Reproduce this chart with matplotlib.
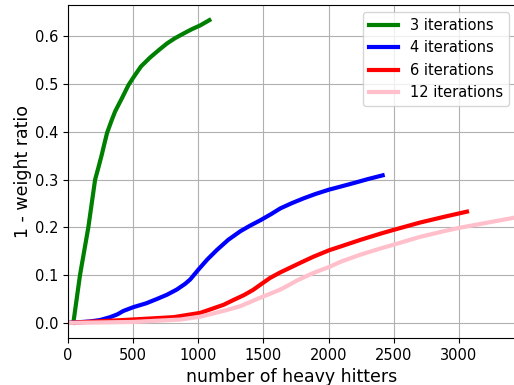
import matplotlib
matplotlib.use("Agg")
import matplotlib.pyplot as plt

# 3 iterations
x3 = [41, 92, 124, 156, 182, 208, 235, 259, 280, 300, 336, 362, 413, 464, 502,
      560, 631, 700, 759, 820, 887, 950, 1015, 1085]
y3 = [0.0, 0.100, 0.150, 0.200, 0.250, 0.300, 0.327, 0.352, 0.376, 0.398, 0.425,
      0.443, 0.470, 0.498, 0.514, 0.537, 0.556, 0.572, 0.585, 0.596, 0.606, 0.615,
      0.623, 0.634]

# 4 iterations
x4 = [0, 169, 246, 323, 380, 425, 502, 600, 682, 760, 836, 900, 938, 1002, 1070,
      1144, 1230, 1323, 1400, 1477, 1560, 1631, 1720, 1810, 1900, 2003, 2100, 2195,
      2300, 2415]
y4 = [0.0, 0.003, 0.006, 0.012, 0.018, 0.025, 0.033, 0.041, 0.050, 0.059, 0.070,
      0.082, 0.091, 0.112, 0.133, 0.153, 0.174, 0.192, 0.204, 0.215, 0.228, 0.240,
      0.251, 0.261, 0.270, 0.279, 0.286, 0.293, 0.301, 0.309]

# 6 iterations
x6 = [0, 425, 810, 1015, 1100, 1195, 1270, 1349, 1420, 1477, 1550, 1631, 1708,
      1800, 1887, 2003, 2092, 2246, 2400, 2502, 2700, 2900, 3062]
y6 = [0.0, 0.006, 0.012, 0.021, 0.029, 0.038, 0.048, 0.058, 0.069, 0.080, 0.094,
      0.106, 0.116, 0.128, 0.139, 0.152, 0.160, 0.174, 0.187, 0.195, 0.210, 0.223,
      0.233]

# 12 iterations
x12 = [0, 500, 862, 1015, 1118, 1220, 1323, 1400, 1477, 1560, 1631, 1700, 1759,
       1887, 2003, 2092, 2246, 2400, 2502, 2700, 2900, 3002, 3200, 3440]
y12 = [0.0, 0.002, 0.007, 0.013, 0.020, 0.027, 0.035, 0.044, 0.053, 0.062, 0.070,
       0.080, 0.089, 0.105, 0.117, 0.128, 0.143, 0.156, 0.164, 0.180, 0.193, 0.199,
       0.209, 0.221]

series = [
    (x3, y3, "green", "3 iterations"),
    (x4, y4, "blue", "4 iterations"),
    (x6, y6, "red", "6 iterations"),
    (x12, y12, "pink", "12 iterations"),
]

fig = plt.figure(figsize=(5.14, 3.85), dpi=100)
ax = fig.add_axes([0.1323, 0.122, 0.872, 0.865])
for xs, ys, c, lab in series:
    ax.plot(xs, ys, color=c, lw=3, label=lab, solid_joinstyle="round")

ax.set_xlim(0, 3440)
ax.margins(y=0.05)
ax.set_xticks([0, 500, 1000, 1500, 2000, 2500, 3000])
ax.set_yticks([0.0, 0.1, 0.2, 0.3, 0.4, 0.5, 0.6])
ax.tick_params(labelsize=10.5)
ax.grid(True)
ax.set_xlabel("number of heavy hitters", fontsize=12.5)
ax.set_ylabel("1 - weight ratio", fontsize=12.5, labelpad=2)
ax.legend(loc="upper right", fontsize=10.5)

fig.savefig("out.png", dpi=100)
